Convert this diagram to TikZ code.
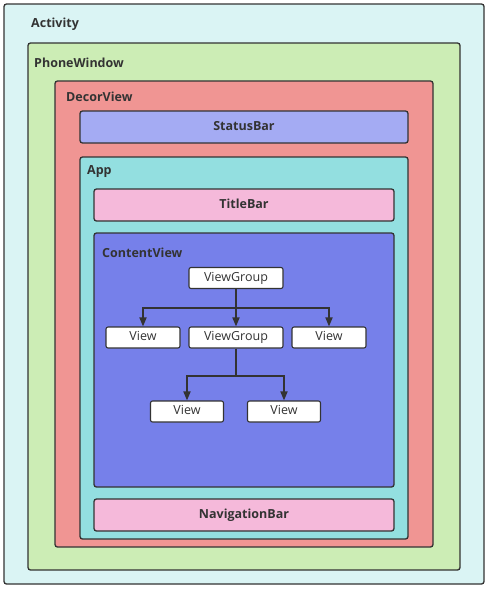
\documentclass[tikz,border=0pt]{standalone}
\usepackage{fontspec}
\setmainfont{Open Sans}
\usetikzlibrary{arrows.meta}

\definecolor{activityfill}{HTML}{DAF4F4}
\definecolor{windowfill}{HTML}{CCEDB5}
\definecolor{decorfill}{HTML}{F09593}
\definecolor{statusfill}{HTML}{A4ABF3}
\definecolor{appfill}{HTML}{93DFE0}
\definecolor{barfill}{HTML}{F5B9DA}
\definecolor{contentfill}{HTML}{7680EA}
\definecolor{edge}{HTML}{333333}

\tikzset{
  layer/.style={draw=edge, line width=1.3pt, rounded corners=2.5pt, inner sep=0pt},
  layername/.style={anchor=west, inner sep=0pt, font=\bfseries\fontsize{12.5}{14}\selectfont, text=edge},
  barbox/.style={layer, fill=barfill, font=\bfseries\fontsize{12.5}{14}\selectfont, text=edge,
    text height=9pt, text depth=3pt},
  viewbox/.style={draw=edge, line width=1.1pt, rounded corners=2pt, fill=white,
    minimum height=21pt, inner sep=0pt, font=\fontsize{12.5}{14}\selectfont, text=edge,
    text height=9pt, text depth=3pt},
  tree/.style={draw=edge, line width=1.7pt, -{Triangle[width=7pt,length=9pt]}}
}

\begin{document}
\begin{tikzpicture}[x=1pt, y=-1pt]
  \useasboundingbox (0,0) rectangle (488,592);

  % nested containers, outermost first
  \node[layer, fill=activityfill, minimum width=480pt, minimum height=580pt] (activity) at (244,294) {};
  \node[layername] (activitylbl) at (31,24) {Activity};

  \node[layer, fill=windowfill, minimum width=432pt, minimum height=527pt] (phonewindow) at (244,306.5) {};
  \node[layername] (phonewindowlbl) at (34,63) {PhoneWindow};

  \node[layer, fill=decorfill, minimum width=378pt, minimum height=466pt] (decorview) at (244,314) {};
  \node[layername] (decorviewlbl) at (66,97) {DecorView};

  \node[layer, fill=statusfill, minimum width=328pt, minimum height=32pt,
        font=\bfseries\fontsize{12.5}{14}\selectfont, text=edge,
        text height=9pt, text depth=3pt] (statusbar) at (244,127) {StatusBar};

  \node[layer, fill=appfill, minimum width=328pt, minimum height=382pt] (app) at (244,348) {};
  \node[layername] (applbl) at (87,172) {App};

  \node[barbox, minimum width=300pt, minimum height=32pt] (titlebar) at (244,205) {TitleBar};

  \node[layer, fill=contentfill, minimum width=300pt, minimum height=254pt] (contentview) at (244,360) {};
  \node[layername] (contentviewlbl) at (102,253) {ContentView};

  \node[barbox, minimum width=300pt, minimum height=32pt] (navigationbar) at (244,515) {NavigationBar};

  % view tree
  \node[viewbox, minimum width=94pt] (vgtop) at (236,278) {ViewGroup};
  \node[viewbox, minimum width=74pt] (vleft) at (143,337.5) {View};
  \node[viewbox, minimum width=94pt] (vgmid) at (236,337.5) {ViewGroup};
  \node[viewbox, minimum width=74pt] (vright) at (329,337.5) {View};
  \node[viewbox, minimum width=73pt] (vlow1) at (187,411.5) {View};
  \node[viewbox, minimum width=73pt] (vlow2) at (284,411.5) {View};

  \draw[tree] (vgtop.south) -- ++(0,19) -| (vleft.north);
  \draw[tree] (vgtop.south) -- ++(0,19) -| (vright.north);
  \draw[tree] (vgtop.south) -- (vgmid.north);
  \draw[tree] (vgmid.south) -- ++(0,27.5) -| (vlow1.north);
  \draw[tree] (vgmid.south) -- ++(0,27.5) -| (vlow2.north);
\end{tikzpicture}
\end{document}
